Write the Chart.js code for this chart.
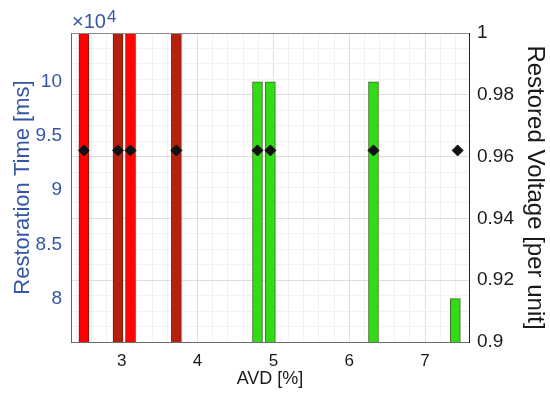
<!DOCTYPE html>
<html>
<head>
<meta charset="utf-8">
<script src="https://cdn.jsdelivr.net/npm/chart.js@4/dist/chart.umd.min.js"></script>
<style>
  html, body { margin: 0; padding: 0; background: #ffffff; }
  #wrap { width: 550px; height: 399px; position: relative; }
</style>
</head>
<body>
<div id="wrap"><canvas id="c"></canvas></div>
<script>
// ---- Data ----
// AVD [%] positions of the cases
const redAVD = [2.5, 2.95, 3.115, 3.72];
const greenAVD = [4.79, 4.96, 6.32, 7.4];
// Restoration time [ms] (red cases exceed the visible range)
const redRestorationTime = [120000, 120000, 120000, 120000];
const greenRestorationTime = [100000, 100000, 100000, 80000];
// Restored voltage [per unit] (diamond markers)
const voltageAVD = [2.5, 2.95, 3.115, 3.72, 4.79, 4.96, 6.32, 7.43];
const restoredVoltage = [0.962, 0.962, 0.962, 0.962, 0.962, 0.962, 0.962, 0.962];
// Tick values
const xTicks = [3, 4, 5, 6, 7];
const leftTicks = [80000, 85000, 90000, 95000, 100000];
const rightTicks = [0.9, 0.92, 0.94, 0.96, 0.98, 1.0];
// Axis labels
const xTitle = 'AVD [%]';
const leftTitle = 'Restoration Time [ms]';
const rightTitle = 'Restored Voltage [per unit]';
const leftExponent = '4';

const LEFT_COLOR = '#3456a8';
const FONT = 'Liberation Sans, Arial, Helvetica, sans-serif';

const redFill = ['#ff0000', '#b5200f', '#ff0500', '#b5200f'];

const frame = {
  id: 'frame',
  afterDraw(chart) {
    const {ctx, chartArea: a} = chart;
    ctx.save();
    ctx.strokeStyle = '#8a8a8a';
    ctx.lineWidth = 1;
    ctx.beginPath();
    ctx.moveTo(a.left, a.top + 0.5);
    ctx.lineTo(a.right, a.top + 0.5);
    ctx.stroke();
    // exponent label of the left axis
    ctx.fillStyle = LEFT_COLOR;
    ctx.font = '20px ' + FONT;
    ctx.textBaseline = 'alphabetic';
    ctx.textAlign = 'left';
    const base = '\u00d710';
    ctx.fillText(base, a.left + 1, a.top - 5);
    const w = ctx.measureText(base).width;
    ctx.font = '17px ' + FONT;
    ctx.fillText(leftExponent, a.left + 2 + w, a.top - 11);
    ctx.restore();
  }
};

const inList = (v, list) => list.some(t => Math.abs(t - v) < 1e-9 * Math.max(1, Math.abs(t)));

// minor grid positions built from the major tick lists
function withMinor(list, minorStep, lo, hi) {
  const out = [];
  const start = Math.ceil(lo / minorStep - 1e-9);
  for (let k = start; k * minorStep <= hi + 1e-9; k++) {
    const v = Math.round(k * minorStep * 1e6) / 1e6;
    if (v >= lo - 1e-9) out.push(v);
  }
  list.forEach(t => { if (!inList(t, out)) out.push(t); });
  return out.sort((a, b) => a - b).map(v => ({value: v}));
}

new Chart(document.getElementById('c'), {
  type: 'bar',
  data: {
    datasets: [
      {
        type: 'line',
        label: 'Restored voltage',
        data: voltageAVD.map((x, i) => ({x, y: restoredVoltage[i]})),
        yAxisID: 'y2',
        showLine: false,
        pointStyle: 'rectRot',
        pointRadius: 5.5,
        pointBackgroundColor: '#111111',
        pointBorderColor: '#111111',
        order: 0
      },
      {
        label: 'Restoration time (red)',
        data: redAVD.map((x, i) => ({x, y: redRestorationTime[i]})),
        yAxisID: 'y',
        backgroundColor: redFill,
        borderColor: '#7d1a0c',
        borderWidth: 1,
        borderSkipped: false,
        barThickness: 10,
        grouped: false,
        order: 1
      },
      {
        label: 'Restoration time (green)',
        data: greenAVD.map((x, i) => ({x, y: greenRestorationTime[i]})),
        yAxisID: 'y',
        backgroundColor: '#2fdc16',
        borderColor: '#3e6b22',
        borderWidth: 1,
        borderSkipped: false,
        barThickness: 10,
        grouped: false,
        order: 1
      }
    ]
  },
  plugins: [frame],
  options: {
    responsive: true,
    maintainAspectRatio: false,
    animation: false,
    layout: { padding: { top: 33, left: 0, right: 0, bottom: 0 } },
    plugins: { legend: { display: false }, tooltip: { enabled: false } },
    scales: {
      x: {
        type: 'linear',
        position: 'bottom',
        min: 2.33,
        max: 7.58,
        offset: false,
        afterBuildTicks(s) { s.ticks = withMinor(xTicks, 0.2, s.min, s.max); },
        afterFit(s) { s.height = 57; },
        grid: {
          offset: false,
          drawTicks: false,
          color: (c) => inList(c.tick.value, xTicks) ? '#dedede' : '#f1f1f1'
        },
        border: { display: true, color: '#6b6b6b', width: 1 },
        ticks: {
          autoSkip: false,
          maxRotation: 0,
          padding: 9,
          color: '#1a1a1a',
          font: { family: FONT, size: 17 },
          callback: (v) => inList(v, xTicks) ? String(Math.round(v)) : ''
        },
        title: {
          display: true,
          text: xTitle,
          color: '#1a1a1a',
          font: { family: FONT, size: 18 },
          padding: { top: 0, bottom: 9 }
        }
      },
      y: {
        type: 'linear',
        position: 'left',
        min: 76000,
        max: 104500,
        afterBuildTicks(s) { s.ticks = leftTicks.map(v => ({value: v})); },
        afterFit(s) { s.width = 71; },
        grid: { display: false, drawTicks: false },
        border: { display: true, color: '#5a6280', width: 1 },
        ticks: {
          autoSkip: false,
          padding: 9,
          color: LEFT_COLOR,
          font: { family: FONT, size: 19 },
          callback: (v) => String(Math.round(v / 1000) / 10)
        },
        title: {
          display: true,
          text: leftTitle,
          color: LEFT_COLOR,
          font: { family: FONT, size: 22 },
          padding: { top: 10, bottom: 0 }
        }
      },
      y2: {
        type: 'linear',
        position: 'right',
        min: 0.9,
        max: 1.0,
        afterBuildTicks(s) { s.ticks = withMinor(rightTicks, 0.005, s.min, s.max); },
        afterFit(s) { s.width = 81; },
        grid: {
          drawOnChartArea: true,
          drawTicks: false,
          color: (c) => inList(c.tick.value, rightTicks) ? '#dedede' : '#f1f1f1'
        },
        border: { display: true, color: '#262626', width: 1 },
        ticks: {
          autoSkip: false,
          padding: 8,
          color: '#1a1a1a',
          font: { family: FONT, size: 19 },
          callback: (v) => inList(v, rightTicks) ? String(Number(v.toFixed(3))) : ''
        },
        title: {
          display: true,
          text: rightTitle,
          color: '#1a1a1a',
          font: { family: FONT, size: 24 },
          padding: { top: 1, bottom: 0 }
        }
      }
    }
  }
});
</script>
</body>
</html>
